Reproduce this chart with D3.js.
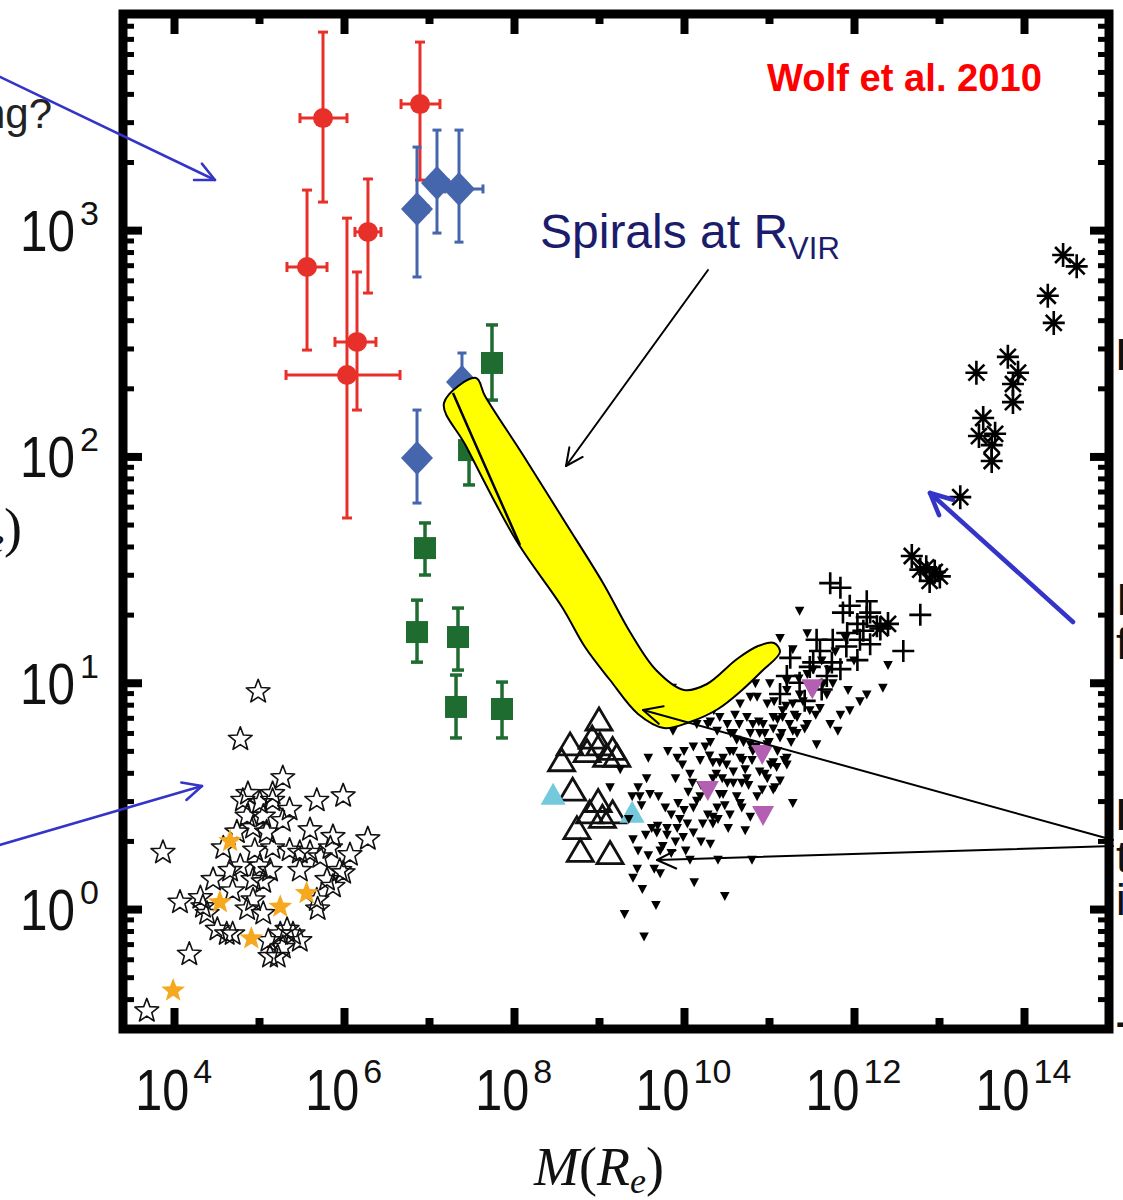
<!DOCTYPE html>
<html><head><meta charset="utf-8">
<script src="https://cdn.jsdelivr.net/npm/d3@7"></script>
<style>html,body{margin:0;padding:0;background:#fff;overflow:hidden}svg{display:block}</style>
</head><body>
<svg id="c" width="1123" height="1200"></svg>
<script>
// ---- data: every pair is [log10 M(Re), log10 of the y quantity] ----
const dwarfStars = [[4.99,0.96],[4.78,0.75],[5.28,0.58],[5.68,0.48],[5.99,0.50],[6.28,0.31],[3.87,0.25],[4.07,0.03],[4.18,-0.20],[3.68,-0.45],[4.87,0.51],[5.16,0.51],[5.87,0.32],[5.99,0.16],[5.69,0.00],[5.48,-0.14],[5.25,-0.11],[5.22,-0.21],[5.13,-0.21],[4.62,-0.11],[4.46,0.13],[4.34,0.01],[4.78,0.19],[4.93,0.13],[5.05,0.12],[4.86,0.00],[4.58,0.27],[4.93,0.36],[5.01,0.47],[5.09,0.34],[5.28,0.39],[5.36,0.26],[5.48,0.25],[5.60,0.25],[5.72,0.23],[5.80,0.13],[5.95,0.17],[5.87,0.10],[4.74,0.34],[5.16,0.27],[4.69,0.08],[4.93,0.04],[4.51,-0.09],[4.69,-0.11],[5.33,-0.09],[5.28,-0.17],[5.68,0.04],[4.31,0.05],[4.39,-0.02],[5.05,-0.02],[5.01,0.19],[4.81,0.48],[5.16,0.48],[5.05,0.41],[4.86,0.41],[5.40,-0.11],[5.84,0.27],[5.48,0.17],[4.95,0.26],[5.13,0.17],[4.66,0.17],[5.11,-0.14],[6.07,0.24],[5.60,0.35],[5.36,0.44]];
const orangeStars = [[4.66,0.30],[4.54,0.03],[5.25,0.01],[5.56,0.07],[4.91,-0.13],[3.99,-0.36]];

// red circles: centre, x-range, y-range
const redPts  = [[5.753,3.495],[6.894,3.557],[6.282,2.992],[5.565,2.837],[6.153,2.506],[6.035,2.360]];
const redXErr = [[5.482,6.035],[6.671,7.129],[6.129,6.435],[5.329,5.800],[5.894,6.376],[5.318,6.659]];
const redYErr = [[3.124,3.875],[3.221,3.831],[2.722,3.226],[2.470,3.177],[2.205,2.815],[1.728,3.053]];

// blue diamonds
const bluePts  = [[6.859,3.093],[7.094,3.208],[7.353,3.182],[6.859,1.993],[7.388,2.329]];
const blueXErr = [[6.741,6.988],[6.988,7.224],[7.188,7.635],[6.80,6.92],[7.33,7.45]];
const blueYErr = [[2.793,3.367],[2.987,3.442],[2.947,3.442],[1.794,2.205],[2.205,2.457]];

// green squares
const greenPts  = [[7.741,2.413],[7.471,2.028],[6.953,1.595],[6.859,1.224],[7.341,1.202],[7.318,0.893],[7.859,0.884]];
const greenYErr = [[2.249,2.581],[1.874,2.170],[1.476,1.706],[1.091,1.365],[1.056,1.330],[0.756,1.034],[0.756,1.003]];

// open and cyan up-triangles
const openTri = [[9.00,0.83],[8.66,0.72],[8.56,0.65],[8.92,0.75],[9.01,0.72],[9.16,0.70],[9.21,0.67],[9.09,0.67],[8.86,0.69],[8.69,0.52],[8.99,0.47],[8.89,0.42],[9.16,0.42],[8.74,0.35],[8.78,0.25],[9.13,0.24],[9.04,0.40]];
const cyanTri = [[8.46,0.50],[9.39,0.42]];

// small filled down-triangles
const smallTri = [[9.86,0.98],[9.13,0.54],[9.58,0.67],[9.81,0.70],[9.56,0.58],[9.46,0.54],[9.39,0.50],[9.48,0.50],[9.60,0.51],[9.40,0.31],[9.46,0.26],[9.72,0.26],[9.72,0.16],[9.40,0.14],[9.51,0.09],[9.67,0.02],[10.48,0.06],[9.53,-0.12],[10.07,0.22],[9.93,0.47],[9.92,0.67],[10.11,0.72],[10.31,0.74],[10.31,0.29],[10.72,0.35],[10.68,0.45],[11.28,0.47],[11.05,0.53],[10.98,0.58],[11.09,0.63],[11.21,0.64],[10.86,0.94],[11.01,1.00],[11.21,1.01],[11.28,0.91],[10.66,0.91],[10.81,0.82],[10.42,0.85],[10.28,0.82],[9.87,0.79],[9.98,0.64],[10.07,0.60],[10.19,0.66],[10.04,0.38],[9.92,0.36],[9.80,0.36],[9.69,0.37],[9.68,0.34],[9.80,0.33],[9.99,0.32],[10.11,0.34],[10.22,0.38],[10.34,0.41],[10.11,0.45],[10.19,0.50],[10.39,0.45],[10.42,0.51],[10.51,0.56],[10.58,0.61],[10.69,0.66],[10.58,0.70],[10.46,0.67],[10.34,0.65],[10.78,0.73],[10.89,0.78],[11.05,0.80],[11.16,0.85],[11.33,0.78],[10.58,0.78],[10.74,0.85],
  [11.36,1.32],[11.13,1.20],[12.40,1.08],[12.34,0.98],[12.07,0.92],[11.93,0.97],[11.84,0.86],[11.81,0.79],[11.56,0.73],[11.07,0.54],[10.92,0.53],[10.84,1.00],[10.78,0.94],[10.51,0.82],[10.39,0.79],[10.31,0.83],[10.98,0.91],[11.16,0.88],[11.33,0.85],[11.48,0.88],[11.60,0.89],[11.68,0.95],[11.75,1.00],[11.64,1.00],[11.36,0.95],[11.21,0.97],[11.05,0.85],[10.93,0.82],[10.78,0.78],[10.62,0.75],[10.54,0.70],[10.42,0.65],[10.34,0.58],[10.66,0.67],[10.81,0.70],[10.98,0.73],[11.13,0.76],[11.28,0.79],[11.45,0.82],[11.21,0.67],[11.05,0.65],[10.89,0.61],[10.74,0.58],[10.58,0.56],[10.46,0.51],[10.66,0.47],[10.54,0.42],[11.13,0.57],[10.78,0.41],[10.34,0.38],
  [10.25,0.72],[10.30,0.68],[10.38,0.60],[10.45,0.58],[10.50,0.64],[10.55,0.78],[10.60,0.86],[10.65,0.82],[10.70,0.74],[10.72,0.62],[10.76,0.55],[10.80,0.66],[10.85,0.72],[10.88,0.83],[10.90,0.70],[10.95,0.78],[11.00,0.74],[11.02,0.64],[11.06,0.92],[11.10,0.70],[11.15,0.78],[11.18,0.66],[11.24,0.82],[11.26,0.74],[11.30,0.86],[11.40,0.92],[11.42,0.80],[11.50,0.96],[11.52,1.06],[11.62,1.10],[10.20,0.55],[10.15,0.48],[10.10,0.56],[10.05,0.52],[10.00,0.44],[9.95,0.40],[9.90,0.30],[9.85,0.42],[9.78,0.45],[9.75,0.28],[9.62,0.36],[9.55,0.33],[9.58,0.24],[9.65,0.18],[9.85,0.25],[10.02,0.26],[10.20,0.30],[10.28,0.42],[10.40,0.40],[10.48,0.46],[10.52,0.36],[10.62,0.50],[10.68,0.56],[10.86,0.50],[10.95,0.60],[11.10,0.84],[11.20,0.90],[11.35,1.02],[11.45,1.04],[11.70,1.06],[11.78,1.14],[11.90,1.20],[12.00,1.10],[12.15,0.95],[11.95,0.88],[11.72,0.82],[11.55,0.86],[10.35,0.88],[10.45,0.92],[10.60,0.96],[10.75,1.05],[10.92,1.08],[11.05,1.12],[11.28,1.15],[11.45,1.22],[9.90,0.58],[9.70,0.50],[10.00,0.70],[10.15,0.82],[9.35,0.40],[9.45,0.18],[9.50,0.46],[10.12,0.12],[10.40,0.22],[10.80,0.22],[9.25,0.62],[9.30,-0.02]];

// magenta down-triangles
const magentaTri = [[10.28,0.53],[10.92,0.69],[10.93,0.42],[11.51,0.98]];

// plus signs
const plusPts = [[11.72,1.44],[11.84,1.42],[11.87,1.31],[12.15,1.36],[12.15,1.29],[12.27,1.25],[12.04,1.26],[12.78,1.30],[12.58,1.14],[12.07,1.19],[12.04,1.10],[11.75,1.19],[11.60,1.14],[11.52,1.09],[11.74,1.09],[11.68,1.03],[11.25,1.11],[11.21,1.03],[11.13,0.95],[11.56,1.19],[11.92,1.22],[12.11,1.23],[11.48,1.07],[11.36,1.00],[12.19,1.31],[11.95,1.34],[11.91,1.16],[12.19,1.17],[11.84,1.06],[11.62,0.97],[11.42,0.92]];

// asterisks
const astPts = [[14.46,2.89],[14.62,2.84],[14.28,2.71],[14.35,2.59],[13.44,2.37],[13.81,2.44],[13.93,2.37],[13.87,2.32],[13.87,2.24],[13.52,2.17],[13.47,2.09],[13.66,2.10],[13.62,2.05],[13.62,1.98],[13.25,1.82],[12.68,1.56],[12.85,1.51],[12.95,1.49],[13.01,1.47],[12.89,1.45],[12.78,1.50],[12.40,1.26],[12.31,1.24]];

// axis ticks (exponents)
const xMajorExp = [4,6,8,10,12,14];
const xMinorExp = [5,7,9,11,13];
const yMajorExp = [0,1,2,3];
const yMinorVals = [];
[-1,0,1,2,3].forEach(e => { for (let k=2;k<=9;k++) yMinorVals.push(k*10**e); });

// ---- layout ----
const svg = d3.select("#c");
const x = d3.scaleLog().domain([10**3.4, 10**15]).range([123, 1109]);
const y = d3.scaleLog().domain([10**-0.53, 10**3.955]).range([1029, 14]);
const X = v => x(10**v), Y = v => y(10**v);

svg.append("rect").attr("width",1123).attr("height",1200).attr("fill","#fff");
svg.append("clipPath").attr("id","plot").append("rect")
  .attr("x",123).attr("y",14).attr("width",986).attr("height",1015);
const plot = svg.append("g").attr("clip-path","url(#plot)");

// marker paths
function starPath(R){ const r=R*0.42; let p=""; for(let i=0;i<10;i++){ const a=-Math.PI/2+i*Math.PI/5, rr=i%2?r:R; p+=(i?"L":"M")+(rr*Math.cos(a)).toFixed(2)+","+(rr*Math.sin(a)).toFixed(2);} return p+"Z"; }
const upTri = (w,h) => `M0,${-h*0.6}L${w},${h*0.4}L${-w},${h*0.4}Z`;
const downTri = (w,h) => `M${-w},${-h*0.4}L${w},${-h*0.4}L0,${h*0.6}Z`;

function scatter(data, path, attrs){
  const s = plot.append("g").selectAll("path").data(data).join("path")
    .attr("d", path).attr("transform", d => `translate(${X(d[0])},${Y(d[1])})`);
  Object.entries(attrs).forEach(([k,v]) => s.attr(k,v));
  return s;
}

// open dwarf stars and orange filled stars
scatter(dwarfStars, starPath(12.5), {fill:"none", stroke:"#111", "stroke-width":1.6, "stroke-linejoin":"round"});
scatter(orangeStars, starPath(12.5), {fill:"#f6a81e"});

// error bars helper
function errBars(pts, xe, ye, color, w, cap){
  const g = plot.append("g").attr("stroke",color).attr("stroke-width",w).attr("fill","none");
  pts.forEach((p,i) => {
    const cx=X(p[0]), cy=Y(p[1]);
    if (ye && ye[i]) {
      const y0=Y(ye[i][0]), y1=Y(ye[i][1]);
      g.append("line").attr("x1",cx).attr("x2",cx).attr("y1",y0).attr("y2",y1);
      g.append("line").attr("x1",cx-cap).attr("x2",cx+cap).attr("y1",y0).attr("y2",y0);
      g.append("line").attr("x1",cx-cap).attr("x2",cx+cap).attr("y1",y1).attr("y2",y1);
    }
    if (xe && xe[i]) {
      const x0=X(xe[i][0]), x1=X(xe[i][1]);
      g.append("line").attr("x1",x0).attr("x2",x1).attr("y1",cy).attr("y2",cy);
      g.append("line").attr("x1",x0).attr("x2",x0).attr("y1",cy-cap).attr("y2",cy+cap);
      g.append("line").attr("x1",x1).attr("x2",x1).attr("y1",cy-cap).attr("y2",cy+cap);
    }
  });
}

// red circles
errBars(redPts, redXErr, redYErr, "#e8302a", 3, 5);
plot.append("g").selectAll("circle").data(redPts).join("circle")
  .attr("cx",d=>X(d[0])).attr("cy",d=>Y(d[1])).attr("r",10).attr("fill","#e8302a");

// blue diamonds
errBars(bluePts, blueXErr, blueYErr, "#4565ad", 3, 4.5);
scatter(bluePts, "M0,-17L16,0L0,17L-16,0Z", {fill:"#4565ad"});

// green squares
errBars(greenPts, null, greenYErr, "#1f6c31", 3.5, 6);
scatter(greenPts, "M-11,-11H11V11H-11Z", {fill:"#1f6c31"});

// triangles
scatter(openTri, upTri(13,22), {fill:"none", stroke:"#111", "stroke-width":2.8, "stroke-linejoin":"miter"});
scatter(cyanTri, upTri(12.5,22), {fill:"#74c9dc"});
scatter(smallTri, downTri(4.8,9), {fill:"#000"});

// plus signs and asterisks
scatter(plusPts, "M-11,0H11M0,-11V11", {stroke:"#000", "stroke-width":2.6, fill:"none"});
scatter(astPts, "M0,-12V12M-11,0H11M-8,-8L8,8M-8,8L8,-8", {stroke:"#000", "stroke-width":2.6, fill:"none"});

// magenta down-triangles
scatter(magentaTri, downTri(11,20), {fill:"#b360b3"});

// ---- yellow track annotation ----
const trackOutline = [[444,403],[476,378],[485,396],[523,455],[565,522],[603,583],[630,632],[656,670],[684,690],[707,684],[737,659],[758,646],[774,643],[780,652],[762,671],[741,691],[718,709],[690,722],[664,728],[638,714],[610,680],[585,647],[562,607],[516,540],[466,446]];
svg.append("path").attr("d", d3.line().curve(d3.curveCatmullRomClosed.alpha(0.5))(trackOutline))
  .attr("fill","#ffff00").attr("stroke","#000").attr("stroke-width",2);
svg.append("path").attr("d", d3.line().curve(d3.curveCatmullRom)([[453,393],[478,450],[520,545]]))
  .attr("fill","none").attr("stroke","#000").attr("stroke-width",2.5);

// ---- frame and ticks ----
function tickSet(axis, vals, len, w, tr){
  const g = svg.append("g").attr("transform",tr)
    .call(axis.tickValues(vals).tickSizeInner(-len).tickSizeOuter(0).tickFormat(""));
  g.select(".domain").remove();
  g.selectAll(".tick line").attr("stroke","#000").attr("stroke-width",w);
}
const xMajor = xMajorExp.map(e=>10**e), xMinor = xMinorExp.map(e=>10**e), yMajor = yMajorExp.map(e=>10**e);
const yMinor = yMinorVals.filter(v => v>=y.domain()[0] && v<=y.domain()[1]);
tickSet(d3.axisBottom(x), xMajor, 21, 8, "translate(0,1029)");
tickSet(d3.axisBottom(x), xMinor, 11, 8, "translate(0,1029)");
tickSet(d3.axisTop(x), xMajor, 20, 8, "translate(0,14)");
tickSet(d3.axisTop(x), xMinor, 10, 8, "translate(0,14)");
tickSet(d3.axisLeft(y), yMajor, 19, 8, "translate(123,0)");
tickSet(d3.axisLeft(y), yMinor, 11, 5, "translate(123,0)");
tickSet(d3.axisRight(y), yMajor, 19, 8, "translate(1109,0)");
tickSet(d3.axisRight(y), yMinor, 11, 5, "translate(1109,0)");
svg.append("rect").attr("x",123).attr("y",14).attr("width",986).attr("height",1015)
  .attr("fill","none").attr("stroke","#000").attr("stroke-width",9);

// ---- tick labels ----
const lab = svg.append("g").attr("font-family","'Liberation Sans', Arial, sans-serif").attr("fill","#111");
xMajorExp.forEach(e => {
  const s = String(e), expW = 19.5*s.length, total = 54+4+expW, x0 = X(e) - total/2;
  lab.append("text").attr("x",x0).attr("y",1110).attr("font-size",58)
    .attr("textLength",54).attr("lengthAdjust","spacingAndGlyphs").text("10");
  lab.append("text").attr("x",x0+58).attr("y",1083).attr("font-size",34).text(s);
});
yMajorExp.forEach(e => {
  const ty = Y(e);
  lab.append("text").attr("x",20).attr("y",ty+21).attr("font-size",58)
    .attr("textLength",55).attr("lengthAdjust","spacingAndGlyphs").text("10");
  lab.append("text").attr("x",80).attr("y",ty-5).attr("font-size",34).text(String(e));
});

// axis titles
const xt = svg.append("text").attr("x",534).attr("y",1185).attr("font-family","'Liberation Serif', 'DejaVu Serif', serif")
  .attr("font-size",54).attr("fill","#111");
xt.append("tspan").attr("font-style","italic").text("M");
xt.append("tspan").text("(");
xt.append("tspan").attr("font-style","italic").text("R");
xt.append("tspan").attr("font-style","italic").attr("font-size",36).attr("dy",8).text("e");
xt.append("tspan").attr("dy",-8).text(")");

const yt = svg.append("text").attr("x",22).attr("y",546).attr("text-anchor","end")
  .attr("font-family","'Liberation Serif', 'DejaVu Serif', serif").attr("font-size",54).attr("fill","#111");
yt.append("tspan").attr("font-style","italic").text("M/L");
yt.append("tspan").text("(");
yt.append("tspan").attr("font-style","italic").text("R");
yt.append("tspan").attr("font-style","italic").attr("font-size",36).attr("dy",7).text("e");
yt.append("tspan").attr("dy",-7).text(")");

// ---- slide annotations ----
svg.append("text").attr("x",767).attr("y",91).attr("font-family","'Liberation Sans', Arial, sans-serif")
  .attr("font-weight","bold").attr("font-size",39).attr("fill","#ff0000")
  .attr("textLength",275).attr("lengthAdjust","spacingAndGlyphs").text("Wolf et al. 2010");

const sp = svg.append("text").attr("x",540).attr("y",248).attr("font-family","'Liberation Sans', Arial, sans-serif")
  .attr("font-size",48).attr("fill","#1c1c6c");
sp.append("tspan").text("Spirals at R");
sp.append("tspan").attr("font-size",31).attr("dy",11).text("VIR");

svg.append("text").attr("x",52).attr("y",128).attr("text-anchor","end")
  .attr("font-family","'Liberation Sans', Arial, sans-serif").attr("font-size",42).attr("fill","#222").text("ng?");

const side = svg.append("g").attr("font-family","'Liberation Sans', Arial, sans-serif").attr("font-size",44).attr("fill","#111");
[["D",370,true],["I",615,false],["f",659,false],["L",830,true],["t",872,false],["i",915,false],["–",1037,true]]
  .forEach(([t,yy,b]) => side.append("text").attr("x",1116).attr("y",yy).attr("font-weight",b?"bold":"normal").text(t));

// arrows
function arrow(x1,y1,x2,y2,color,w,head){
  const g = svg.append("g").attr("stroke",color).attr("stroke-width",w).attr("fill","none")
    .attr("stroke-linecap","round").attr("stroke-linejoin","round");
  g.append("line").attr("x1",x1).attr("y1",y1).attr("x2",x2).attr("y2",y2);
  const a = Math.atan2(y1-y2, x1-x2), s = Math.PI/7;
  g.append("path").attr("d",`M${x2+head*Math.cos(a+s)},${y2+head*Math.sin(a+s)}L${x2},${y2}L${x2+head*Math.cos(a-s)},${y2+head*Math.sin(a-s)}`);
}
arrow(-4,75,215,180,"#3434c8",2.5,21);
arrow(-4,846,202,786,"#3434c8",2.5,21);
arrow(1073,622,930,493,"#3434c8",4.5,24);
arrow(708,270,566,466,"#000",2,19);
arrow(1113,840,643,710,"#000",2,21);
arrow(1113,846,657,860,"#000",2,21);
</script>
</body></html>
